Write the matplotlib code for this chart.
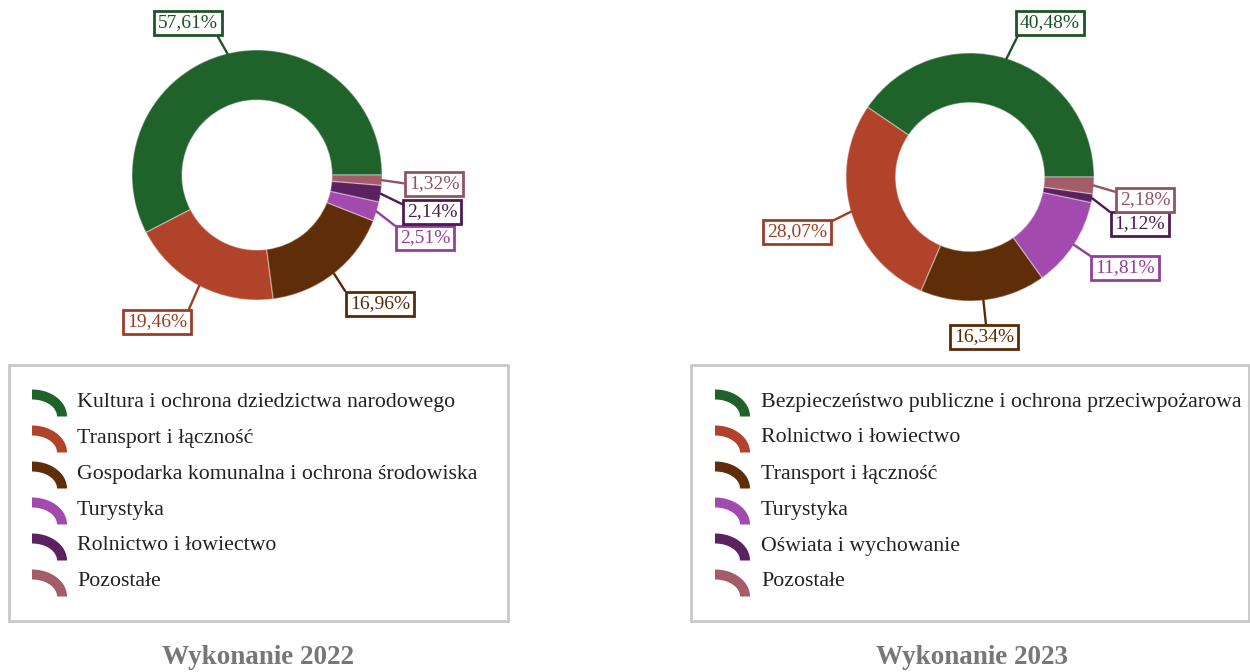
import matplotlib
matplotlib.use("Agg")
import matplotlib.pyplot as plt
from matplotlib.patches import Rectangle, Polygon
import numpy as np

plt.rcParams['font.family'] = ['Liberation Serif', 'DejaVu Serif']

# ---- data ----
labels_2022 = [
    "Kultura i ochrona dziedzictwa narodowego",
    "Transport i łączność",
    "Gospodarka komunalna i ochrona środowiska",
    "Turystyka",
    "Rolnictwo i łowiectwo",
    "Pozostałe",
]
values_2022 = [57.61, 19.46, 16.96, 2.51, 2.14, 1.32]

labels_2023 = [
    "Bezpieczeństwo publiczne i ochrona przeciwpożarowa",
    "Rolnictwo i łowiectwo",
    "Transport i łączność",
    "Turystyka",
    "Oświata i wychowanie",
    "Pozostałe",
]
values_2023 = [40.48, 28.07, 16.34, 11.81, 1.12, 2.18]

titles = ["Wykonanie 2022", "Wykonanie 2023"]

# ---- styling ----
colors = ["#1f622a", "#b0432a", "#5f2d08", "#a24aae", "#5b2160", "#a35c68"]
label_colors = ["#1d5426", "#9c3d27", "#5a2a07", "#923f9e", "#4e1a52", "#935462"]

W, H = 1250, 672
fig = plt.figure(figsize=(W / 100, H / 100), dpi=100)
fig.patch.set_facecolor("white")

overlay = fig.add_axes([0, 0, 1, 1])
overlay.set_xlim(0, W)
overlay.set_ylim(H, 0)
overlay.axis("off")


def fmt(v):
    return f"{v:.2f}".replace(".", ",") + "%"


def donut(center, radius, values, label_pos, anchors):
    cx, cy = center
    ax = fig.add_axes([(cx - radius) / W, 1 - (cy + radius) / H,
                       2 * radius / W, 2 * radius / H])
    wedges, _ = ax.pie(values, colors=colors, startangle=0, counterclock=True,
                       radius=1,
                       wedgeprops=dict(width=0.4, edgecolor=(1, 1, 1, 0.35),
                                       linewidth=1))
    ax.set_xlim(-1, 1)
    ax.set_ylim(-1, 1)
    ax.axis("off")
    for w, v, lc, pos, rel in zip(wedges, values, label_colors, label_pos, anchors):
        mid = np.deg2rad((w.theta1 + w.theta2) / 2)
        ax.annotate(fmt(v), xy=(np.cos(mid), np.sin(mid)), xytext=pos,
                    ha="center", va="center", fontsize=14, color=lc,
                    bbox=dict(boxstyle="square,pad=0.2", fc="white", ec=lc, lw=2),
                    arrowprops=dict(arrowstyle="-", color=lc, lw=1.7,
                                    shrinkA=0, shrinkB=0, relpos=rel),
                    annotation_clip=False, zorder=5)


def legend_box(x0, x1, y0, y1, icon_x, text_x, labels):
    overlay.add_patch(Rectangle((x0, y0), x1 - x0, y1 - y0, fill=False,
                                ec="#c8c8c8", lw=2))
    a, b, t = 35, 27, 10
    th = np.linspace(np.pi / 2, 0, 40)
    for i, (lab, col) in enumerate(zip(labels, colors)):
        yc = 401 + 36 * i
        bottom = yc + 15.5
        outer = np.column_stack([icon_x + a * np.cos(th), bottom - b * np.sin(th)])
        inner = np.column_stack([icon_x + (a - t) * np.cos(th[::-1]),
                                 bottom - (b - t) * np.sin(th[::-1])])
        overlay.add_patch(Polygon(np.vstack([outer, inner]), closed=True,
                                  fc=col, ec="none"))
        overlay.text(text_x, yc + 1, lab, ha="left", va="center", fontsize=15.75,
                     color="#222222")


donut((257, 175), 125, values_2022,
      [(-0.552, 1.216), (-0.80, -1.176), (0.984, -1.032),
       (1.344, -0.504), (1.40, -0.296), (1.416, -0.072)],
      [(0.95, 0), (1, 1), (0, 0.82), (0, 1), (0, 0.83), (0, 0.5)])
donut((970, 177), 124, values_2023,
      [(0.645, 1.242), (-1.395, -0.444), (0.113, -1.290),
       (1.25, -0.734), (1.371, -0.379), (1.411, -0.185)],
      [(0, 0), (1, 1), (0.54, 1), (0.05, 0.9), (0, 1), (0, 0.9)])

legend_box(9, 508, 365, 621, 32, 77, labels_2022)
legend_box(691, 1248.5, 365, 621, 715, 761, labels_2023)

for x, title in zip([258, 972], titles):
    overlay.text(x, 657, title, ha="center", va="center", fontsize=19.5,
                 fontweight="bold", color="#777777")

fig.savefig("out.png", dpi=100, facecolor="white")
